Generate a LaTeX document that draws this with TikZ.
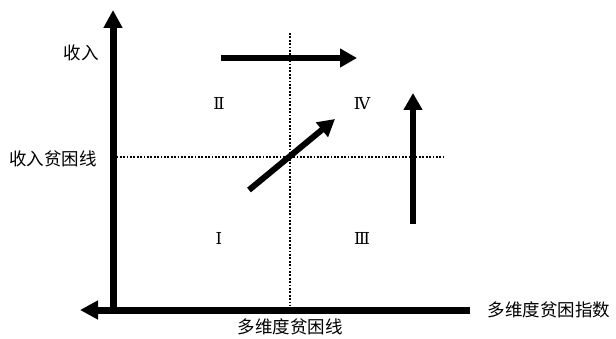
\documentclass[tikz,border=0pt]{standalone}
\usepackage{fontspec}
\newfontfamily\cjk{Noto Sans CJK SC}
\newfontfamily\numfont{DejaVu Serif}
\usetikzlibrary{arrows.meta}

\begin{document}
\begin{tikzpicture}[x=1pt, y=-1pt,
  axis/.style={line width=7pt, -{Triangle[length=18pt, width=18pt]}},
  move/.style={line width=6pt, -{Triangle[length=17pt, width=18pt]}},
  guide/.style={line width=2.5pt, dash pattern=on 1.8pt off 1.6pt},
  lbl/.style={font=\cjk\fontsize{17.5}{20}\selectfont, inner sep=0pt},
  quad/.style={font=\numfont\fontsize{16.5}{19}\selectfont, inner sep=0pt}]
  \useasboundingbox (0,0) rectangle (616,339);
  % axes
  \coordinate (O) at (113,310);
  \coordinate (ytop) at (113,10);
  \coordinate (xleft) at (80,310);
  \coordinate (xend) at (470,310);
  \draw[axis] (xend) -- (xleft);
  \draw[axis] (113,313.5) -- (ytop);
  % poverty lines
  \coordinate (incA) at (113,157);
  \coordinate (incB) at (443,157);
  \coordinate (mdA) at (290,33);
  \coordinate (mdB) at (290,306);
  \draw[guide] (incA) -- (incB);
  \draw[guide] (mdA) -- (mdB);
  % movements
  \coordinate (r1) at (221,58);
  \coordinate (r2) at (357,58);
  \coordinate (d1) at (249,190);
  \coordinate (d2) at (335,119);
  \coordinate (u1) at (413,224);
  \coordinate (u2) at (413,93);
  \draw[move] (r1) -- (r2);
  \draw[move] (d1) -- (d2);
  \draw[move] (u1) -- (u2);
  % labels
  \node[lbl] (inc) at (81,53) {收入};
  \node[lbl] (incline) at (53,159) {收入贫困线};
  \node[lbl] (mdline) at (290,327) {多维度贫困线};
  \node[lbl] (mdidx) at (549,310) {多维度贫困指数};
  \node[quad] (q1) at (219,238) {Ⅰ};
  \node[quad] (q2) at (219,103) {Ⅱ};
  \node[quad] (q3) at (362,238) {Ⅲ};
  \node[quad] (q4) at (362,103) {Ⅳ};
\end{tikzpicture}
\end{document}
